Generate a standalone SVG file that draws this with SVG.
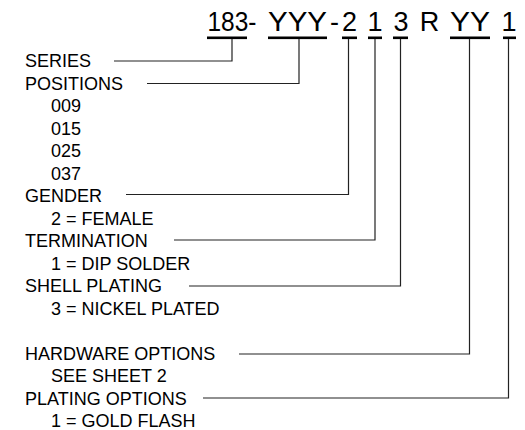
<svg xmlns="http://www.w3.org/2000/svg" width="525" height="430" viewBox="0 0 525 430">
<style>
text{font-family:"Liberation Sans",Arial,sans-serif;fill:#000}
.t{font-size:27px;text-anchor:middle}
.l{font-size:18px}
.ul{fill:#000}
.c{stroke:#222;stroke-width:1.2;fill:none}
</style>
<rect width="525" height="430" fill="#fff"/>
<g id="part-number">
<text class="t" x="232" y="31" textLength="49" lengthAdjust="spacingAndGlyphs">183-</text>
<text class="t" x="297.5" y="31" textLength="59" lengthAdjust="spacingAndGlyphs">YYY</text>
<text class="t" x="334.5" y="31">-</text>
<text class="t" x="349.5" y="31">2</text>
<text class="t" x="375" y="31">1</text>
<text class="t" x="401" y="31">3</text>
<text class="t" x="429.5" y="31">R</text>
<text class="t" x="470" y="31" textLength="40" lengthAdjust="spacingAndGlyphs">YY</text>
<text class="t" x="509" y="31">1</text>
<rect class="ul" x="207" y="36.5" width="40" height="2.6"/>
<rect class="ul" x="268" y="36.5" width="59" height="2.6"/>
<rect class="ul" x="342" y="36.5" width="15" height="2.6"/>
<rect class="ul" x="368" y="36.5" width="14" height="2.6"/>
<rect class="ul" x="393" y="36.5" width="15" height="2.6"/>
<rect class="ul" x="450" y="36.5" width="40" height="2.6"/>
<rect class="ul" x="503" y="36.5" width="13" height="2.6"/>
</g>
<g id="series"><text class="l" x="25" y="67">SERIES</text></g>
<g id="positions">
<text class="l" x="25" y="89.5">POSITIONS</text>
<text class="l" x="51" y="112">009</text>
<text class="l" x="51" y="134.5">015</text>
<text class="l" x="51" y="157">025</text>
<text class="l" x="51" y="179.5">037</text>
</g>
<g id="gender">
<text class="l" x="25" y="202">GENDER</text>
<text class="l" x="51" y="224.5">2 = FEMALE</text>
</g>
<g id="termination">
<text class="l" x="25" y="247">TERMINATION</text>
<text class="l" x="51" y="269.5">1 = DIP SOLDER</text>
</g>
<g id="shell-plating">
<text class="l" x="25" y="292">SHELL PLATING</text>
<text class="l" x="51" y="314.5">3 = NICKEL PLATED</text>
</g>
<g id="hardware-options">
<text class="l" x="25" y="359.5">HARDWARE OPTIONS</text>
<text class="l" x="51" y="382">SEE SHEET 2</text>
</g>
<g id="plating-options">
<text class="l" x="25" y="404.5">PLATING OPTIONS</text>
<text class="l" x="51" y="427">1 = GOLD FLASH</text>
</g>
<g id="connectors">
<polyline class="c" points="114,61 232,61 232,39"/>
<polyline class="c" points="147,83.5 299,83.5 299,39"/>
<polyline class="c" points="126,194.5 348.5,194.5 348.5,39"/>
<polyline class="c" points="174,240 375,240 375,39"/>
<polyline class="c" points="189,286 400.5,286 400.5,39"/>
<polyline class="c" points="239,354 469.5,354 469.5,39"/>
<polyline class="c" points="203,398 508.5,398 508.5,39"/>
</g>
</svg>
